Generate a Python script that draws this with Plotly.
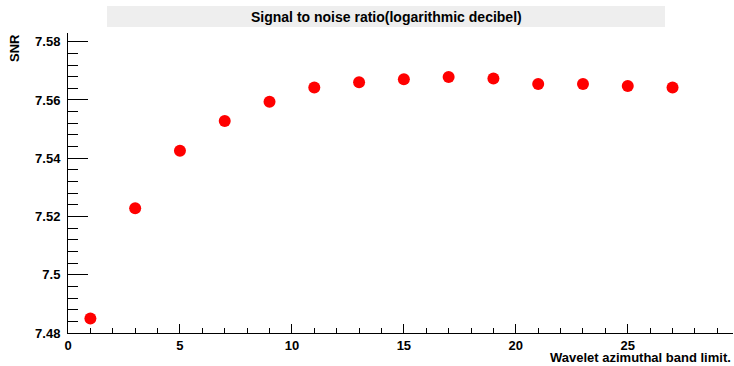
import plotly.graph_objects as go

band_limit = [1, 3, 5, 7, 9, 11, 13, 15, 17, 19, 21, 23, 25, 27]
snr = [7.4850, 7.5228, 7.5426, 7.5528, 7.5594, 7.5643, 7.5661, 7.5671,
       7.5679, 7.5674, 7.5655, 7.5655, 7.5648, 7.5643]

title_text = "Signal to noise ratio(logarithmic decibel)"
x_title = "Wavelet azimuthal band limit."
y_title = "SNR"

FONT = "Liberation Sans, Arial, sans-serif"

fig = go.Figure()
fig.add_trace(go.Scatter(
    x=band_limit, y=snr, mode="markers",
    marker=dict(color="#ff0000", size=12, line=dict(width=0)),
    showlegend=False,
))

L, R, T, B = 68, 1, 33, 33
W, H = 734, 366
pw, ph = W - L - R, H - T - B

def px_x(p):
    return (p - L) / pw

def px_y(p):
    return (H - B - p) / ph

fig.update_layout(
    width=W, height=H,
    margin=dict(l=L, r=R, t=T, b=B, pad=0),
    paper_bgcolor="white", plot_bgcolor="white",
    font=dict(family=FONT, color="black"),
    xaxis=dict(
        range=[0, 29.7], showgrid=False, zeroline=False,
        showline=True, linecolor="black", linewidth=1,
        ticks="inside", ticklen=9, tickcolor="black", tickwidth=1,
        tick0=0, dtick=5,
        minor=dict(ticks="inside", ticklen=5, dtick=1, tickcolor="black", showgrid=False),
        tickfont=dict(size=13, family=FONT, weight="bold", color="black"),
        ticklabelstandoff=0,
    ),
    yaxis=dict(
        range=[7.48, 7.583], showgrid=False, zeroline=False,
        showline=True, linecolor="black", linewidth=1,
        ticks="inside", ticklen=20, tickcolor="black", tickwidth=1,
        tick0=7.48, dtick=0.02,
        minor=dict(ticks="inside", ticklen=10, dtick=0.004, tickcolor="black", showgrid=False),
        tickfont=dict(size=13, family=FONT, weight="bold", color="black"),
        ticklabelstandoff=4,
    ),
    shapes=[dict(
        type="rect", xref="paper", yref="paper",
        x0=px_x(107), x1=px_x(665), y0=px_y(27), y1=px_y(6),
        fillcolor="#eeeeee", line=dict(width=0), layer="below",
    )],
    annotations=[
        dict(text=title_text, xref="paper", yref="paper",
             x=px_x(386), y=px_y(16.5), xanchor="center", yanchor="middle",
             showarrow=False, font=dict(size=14, family=FONT, weight="bold", color="black")),
        dict(text=x_title, xref="paper", yref="paper",
             x=px_x(732), y=px_y(357.5), xanchor="right", yanchor="middle",
             showarrow=False, borderpad=0,
             font=dict(size=13, family=FONT, weight="bold", color="black")),
        dict(text=y_title, xref="paper", yref="paper",
             x=px_x(15), y=px_y(32), xanchor="center", yanchor="top",
             textangle=-90,
             showarrow=False, font=dict(size=13, family=FONT, weight="bold", color="black")),
    ],
)

fig.write_html("out.html")
